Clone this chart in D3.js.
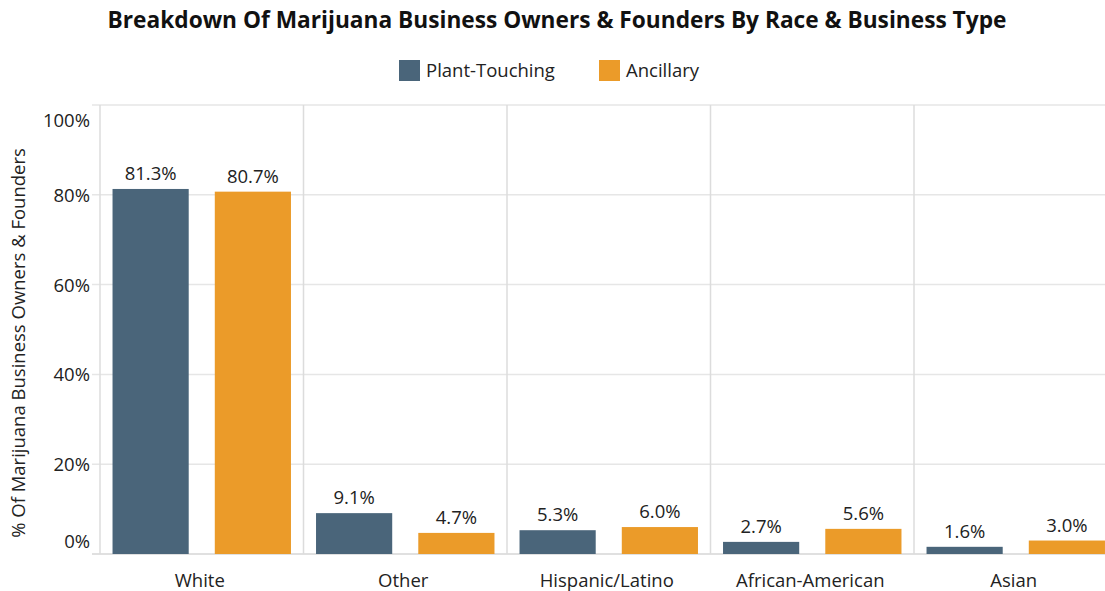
<!DOCTYPE html>
<html>
<head>
<meta charset="utf-8">
<script src="https://cdn.jsdelivr.net/npm/d3@7"></script>
<style>
  html, body { margin: 0; padding: 0; background: #fff; }
  svg { display: block; font-family: "Open Sans", Lato, sans-serif; }
</style>
</head>
<body>
<div id="chart"></div>
<script>
const categories = ["White", "Other", "Hispanic/Latino", "African-American", "Asian"];
const seriesNames = ["Plant-Touching", "Ancillary"];
const plantTouching = [81.3, 9.1, 5.3, 2.7, 1.6];
const ancillary = [80.7, 4.7, 6.0, 5.6, 3.0];
const yTicks = [0, 20, 40, 60, 80, 100];
const colors = ["#4a657a", "#eb9b29"];

const W = 1105, H = 591;
const FS = 18.5;
const svg = d3.select("#chart").append("svg").attr("width", W).attr("height", H);

const left = 100, catStep = 203.5;
const x = d3.scaleBand().domain(categories).range([left, left + catStep * categories.length]).padding(0);
const xs = d3.scaleBand().domain(seriesNames).range([0, x.bandwidth()]).paddingInner(0.255).paddingOuter(0.1225);
const y = d3.scaleLinear().domain([0, 100]).range([554, 105]);

// horizontal gridlines
svg.append("g").selectAll("line").data(yTicks).join("line")
  .attr("x1", 92).attr("x2", W)
  .attr("y1", d => y(d)).attr("y2", d => y(d))
  .attr("stroke", d => d === 0 ? "#d6d6d6" : "#e6e6e6")
  .attr("stroke-width", 1.5);

// vertical dividers
svg.append("g").selectAll("line").data(categories).join("line")
  .attr("x1", d => x(d)).attr("x2", d => x(d))
  .attr("y1", y(100)).attr("y2", y(0))
  .attr("stroke", "#dcdcdc").attr("stroke-width", 1.5);

// y axis tick labels
svg.append("g").selectAll("text").data(yTicks).join("text")
  .attr("x", 90)
  .attr("y", d => y(d))
  .attr("dy", d => d === 100 ? 22 : d === 0 ? -6 : 7)
  .attr("text-anchor", "end")
  .attr("font-size", FS)
  .attr("fill", "#222")
  .text(d => d + "%");

// y axis title
svg.append("text")
  .attr("transform", "translate(25,343) rotate(-90)")
  .attr("text-anchor", "middle")
  .attr("font-size", FS)
  .attr("fill", "#222")
  .text("% Of Marijuana Business Owners & Founders");

// bars
const rows = categories.map((c, i) => ({ cat: c, vals: [plantTouching[i], ancillary[i]] }));
const groups = svg.append("g").selectAll("g").data(rows).join("g")
  .attr("transform", d => `translate(${x(d.cat)},0)`);

groups.selectAll("rect").data(d => d.vals.map((v, j) => ({ s: seriesNames[j], v, j }))).join("rect")
  .attr("x", d => xs(d.s))
  .attr("width", xs.bandwidth())
  .attr("y", d => y(d.v))
  .attr("height", d => y(0) - y(d.v))
  .attr("fill", d => colors[d.j]);

groups.selectAll("text").data(d => d.vals.map((v, j) => ({ s: seriesNames[j], v, j }))).join("text")
  .attr("x", d => xs(d.s) + xs.bandwidth() / 2)
  .attr("y", d => y(d.v) - 9)
  .attr("text-anchor", "middle")
  .attr("font-size", FS)
  .attr("fill", "#222")
  .text(d => d.v.toFixed(1) + "%");

// x labels
svg.append("g").selectAll("text").data(categories).join("text")
  .attr("x", d => x(d) + x.bandwidth() / 2 - 2)
  .attr("y", 587)
  .attr("text-anchor", "middle")
  .attr("font-size", FS)
  .attr("fill", "#222")
  .text(d => d);

// title
svg.append("text")
  .attr("x", 557).attr("y", 28)
  .attr("text-anchor", "middle")
  .attr("font-size", 22.7)
  .attr("font-weight", "bold")
  .attr("fill", "#111")
  .text("Breakdown Of Marijuana Business Owners & Founders By Race & Business Type");

// legend
const legendX = [399, 599];
const lg = svg.append("g").selectAll("g").data(seriesNames).join("g")
  .attr("transform", (d, i) => `translate(${legendX[i]},60)`);
lg.append("rect").attr("width", 21).attr("height", 21).attr("fill", (d, i) => colors[i]);
lg.append("text").attr("x", 27).attr("y", 17).attr("font-size", FS).attr("fill", "#222").text(d => d);
</script>
</body>
</html>
